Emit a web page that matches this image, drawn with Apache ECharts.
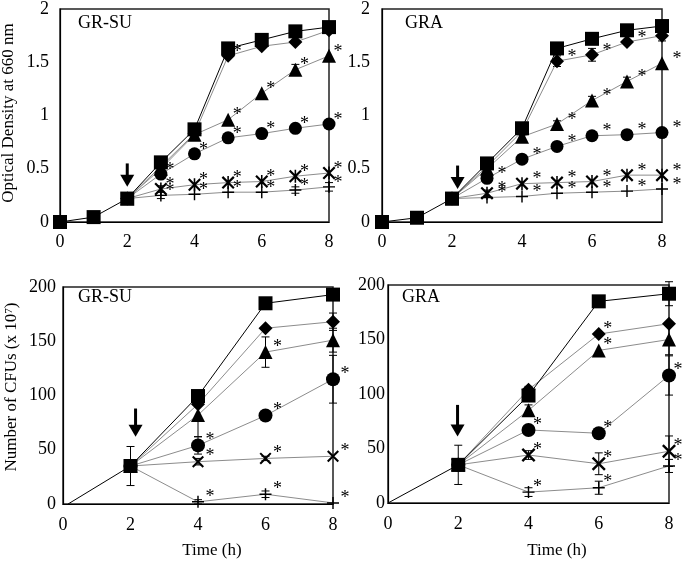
<!DOCTYPE html>
<html><head><meta charset="utf-8">
<script src="https://cdn.jsdelivr.net/npm/echarts@6/dist/echarts.min.js"></script>
<style>html,body{margin:0;padding:0;background:#fff}#c{width:683px;height:561px}</style>
</head><body><div id="c"></div>
<script>
// ---------- DATA ----------
// Optical density panels (hours 0..8)
const odHours = [0, 1, 2, 3, 4, 5, 6, 7, 8];
const odTreatHours = [2, 3, 4, 5, 6, 7, 8];
const odTicks = [0, 0.5, 1, 1.5, 2];

// GR-SU optical density
const suOdControl  = [0, 0.046, 0.22, 0.56, 0.87, 1.63, 1.71, 1.79, 1.83];
const suOdDiamond  = [0.22, 0.52, 0.83, 1.56, 1.65, 1.69, 1.80];
const suOdTriangle = [0.22, 0.50, 0.82, 0.96, 1.21, 1.43, 1.56];
const suOdCircle   = [0.22, 0.45, 0.64, 0.79, 0.83, 0.88, 0.92];
const suOdStar     = [0.22, 0.31, 0.35, 0.37, 0.38, 0.43, 0.46];
const suOdPlus     = [0.22, 0.25, 0.26, 0.28, 0.28, 0.30, 0.33];
const suOdTriangleErr = [0, 0, 0, 0, 0, 0.05, 0];
const suOdPlusErr     = [0, 0.03, 0, 0, 0, 0.03, 0.04];
const suOdStarErr     = [0, 0.03, 0, 0, 0, 0, 0];

// GRA optical density
const graOdControl  = [0, 0.04, 0.22, 0.55, 0.88, 1.63, 1.72, 1.80, 1.84];
const graOdDiamond  = [0.22, 0.52, 0.85, 1.51, 1.57, 1.69, 1.75];
const graOdTriangle = [0.22, 0.50, 0.80, 0.92, 1.14, 1.32, 1.49];
const graOdCircle   = [0.22, 0.41, 0.59, 0.71, 0.81, 0.82, 0.84];
const graOdStar     = [0.22, 0.27, 0.36, 0.37, 0.38, 0.44, 0.44];
const graOdPlus     = [0.22, 0.23, 0.24, 0.27, 0.28, 0.29, 0.31];
const graOdDiamondErr  = [0, 0, 0, 0.05, 0.06, 0, 0.05];
const graOdTriangleErr = [0, 0, 0, 0.03, 0.04, 0.04, 0];
const graOdStarErr     = [0, 0.03, 0, 0, 0, 0, 0];

// CFU panels
const cfuTicks = [0, 50, 100, 150, 200];
const cfuSuControlHours  = [0.15, 2, 4, 6, 8];
const cfuGraControlHours = [0, 2, 4, 6, 8];
const cfuTreatHours = [2, 4, 6, 8];

// GR-SU CFUs (x 10^7)
const suCfuControl  = [0, 35, 99.5, 185, 193];
const suCfuDiamond  = [35, 92, 162, 168];
const suCfuTriangle = [35, 82, 140, 151];
const suCfuCircle   = [35, 54, 81.5, 115];
const suCfuCross    = [35, 39, 42, 44];
const suCfuPlus     = [35, 2, 9, 1];
const suCfuControlErr  = [0, 18, 0, 4, 0];
const suCfuDiamondErr  = [0, 0, 0, 8];
const suCfuTriangleErr = [0, 20, 14, 11];
const suCfuCircleErr   = [0, 8, 0, 22];
const suCfuCrossErr    = [0, 3, 2, 0];
const suCfuPlusErr     = [0, 2, 3, 0];

// GRA CFUs (x 10^7)
const graCfuControl  = [0, 35, 98.6, 185, 192];
const graCfuDiamond  = [35, 104, 155, 164.5];
const graCfuTriangle = [35, 85, 140, 150];
const graCfuCircle   = [35, 67, 64, 117];
const graCfuCross    = [35, 44, 36, 47.5];
const graCfuPlus     = [35, 10, 14, 34];
const graCfuControlErr  = [0, 18, 0, 0, 11];
const graCfuDiamondErr  = [0, 3, 0, 0];
const graCfuTriangleErr = [0, 5, 0, 14];
const graCfuCircleErr   = [0, 0, 0, 18];
const graCfuCrossErr    = [0, 4, 10, 14];
const graCfuPlusErr     = [0, 4, 6, 6];

// significance asterisks: hours at which "*" is shown
const suOdStars  = {diamond: [5], triangle: [5, 6, 7, 8], circle: [3, 4, 5, 6, 7, 8], star: [3, 4, 5, 6, 7, 8], plus: [3, 4, 5, 6, 7, 8]};
const graOdStars = {diamond: [5, 6, 7], triangle: [5, 6, 7, 8], circle: [3, 4, 5, 6, 7, 8], star: [3, 4, 5, 6, 7, 8], plus: [3, 4, 5, 6, 7, 8]};
const suCfuStars  = {diamond: [], triangle: [6], circle: [4, 6, 8], cross: [4, 6, 8], plus: [4, 6, 8]};
const graCfuStars = {diamond: [6], triangle: [6], circle: [4, 6, 8], cross: [4, 6, 8], plus: [4, 6, 8]};

// treatment arrows: [hour, top value, tip value]
const suOdArrow   = [2.0, 0.55, 0.33];
const graOdArrow  = [2.16, 0.53, 0.31];
const suCfuArrow  = [2.15, 88, 62];
const graCfuArrow = [1.98, 90, 61];

const panelTitles = ['GR-SU', 'GRA', 'GR-SU', 'GRA'];

// ---------- STYLE ----------
const FONT = 'Liberation Serif, Times New Roman, serif';
const SYM_STAR = 'path://M0,1.2 L1.2,0 L10,8.8 L8.8,10 Z M8.8,0 L10,1.2 L1.2,10 L0,8.8 Z M4.4,0 L5.6,0 L5.6,10 L4.4,10 Z';
const SYM_X = 'path://M0,1.2 L1.2,0 L10,8.8 L8.8,10 Z M8.8,0 L10,1.2 L1.2,10 L0,8.8 Z';
const SYM_PLUS = 'path://M0,4.4 L10,4.4 L10,5.6 L0,5.6 Z M4.4,0 L5.6,0 L5.6,10 L4.4,10 Z';
const starOffset = [[9, -4], [15, -4], [12, -5], [9, -5]];

function lineSeries(gi, xs, ys, symbol, size, isControl, stars) {
  const data = xs.map((x, i) => {
    const item = {value: [x, ys[i]]};
    if (isControl && gi >= 2 && i === 0) item.symbol = 'none';
    if (stars && stars.indexOf(x) >= 0) {
      item.label = {show: true, formatter: '*', position: 'inside', offset: starOffset[gi],
        fontFamily: FONT, fontSize: 18, color: '#000'};
    }
    return item;
  });
  return {
    type: 'line', xAxisIndex: gi, yAxisIndex: gi, data,
    symbol, symbolSize: size, showAllSymbol: true,
    lineStyle: {color: isControl ? '#000' : '#8c8c8c', width: 1},
    itemStyle: {color: '#000'},
    label: {show: false},
    emphasis: {disabled: true},
    z: isControl ? 4 : 3, animation: false
  };
}

function errSeries(gi, xs, ys, errs) {
  const data = [];
  xs.forEach((x, i) => { if (errs[i] > 0) data.push([x, ys[i], errs[i]]); });
  return {
    type: 'custom', xAxisIndex: gi, yAxisIndex: gi, data, z: 2, silent: true, animation: false,
    renderItem(params, api) {
      const x = api.value(0), y = api.value(1), e = api.value(2);
      const hi = api.coord([x, y + e]), lo = api.coord([x, y - e]);
      const w = 4, st = {stroke: '#000', lineWidth: 1};
      return {type: 'group', children: [
        {type: 'line', shape: {x1: hi[0], y1: hi[1], x2: lo[0], y2: lo[1]}, style: st},
        {type: 'line', shape: {x1: hi[0] - w, y1: hi[1], x2: hi[0] + w, y2: hi[1]}, style: st},
        {type: 'line', shape: {x1: lo[0] - w, y1: lo[1], x2: lo[0] + w, y2: lo[1]}, style: st}
      ]};
    }
  };
}

function arrowSeries(gi, arr) {
  return {
    type: 'custom', xAxisIndex: gi, yAxisIndex: gi, data: [arr], z: 6, silent: true, animation: false,
    renderItem(params, api) {
      const top = api.coord([api.value(0), api.value(1)]);
      const tip = api.coord([api.value(0), api.value(2)]);
      const hh = 12, hw = 7;
      return {type: 'group', children: [
        {type: 'line', shape: {x1: top[0], y1: top[1], x2: tip[0], y2: tip[1] - hh + 1}, style: {stroke: '#000', lineWidth: 3}},
        {type: 'polygon', shape: {points: [[tip[0] - hw, tip[1] - hh], [tip[0] + hw, tip[1] - hh], [tip[0], tip[1]]]}, style: {fill: '#000'}}
      ]};
    }
  };
}

const grids = [
  {left: 60, top: 5, width: 269, height: 217},
  {left: 382, top: 5, width: 280, height: 217},
  {left: 63, top: 287, width: 270, height: 217},
  {left: 388, top: 285, width: 281, height: 218}
].map(g => Object.assign(g, {show: true, borderColor: '#222', borderWidth: 1.5, containLabel: false}));

const yMargins = [11, 12, 7, 3];
const xMargins = [11, 11, 12, 12];

const xAxes = grids.map((g, i) => ({
  type: 'value', gridIndex: i, min: 0, max: 8, interval: 2,
  axisLine: {show: true, lineStyle: {color: '#000', width: 1.2}},
  axisTick: {show: false}, splitLine: {show: false},
  axisLabel: {fontFamily: FONT, fontSize: 18, color: '#000', margin: xMargins[i]}
}));
const yAxes = grids.map((g, i) => {
  const ticks = i < 2 ? odTicks : cfuTicks;
  return {
    type: 'value', gridIndex: i, min: ticks[0], max: ticks[ticks.length - 1],
    interval: ticks[1] - ticks[0],
    axisLine: {show: true, lineStyle: {color: '#000', width: 1.2}},
    axisTick: {show: false}, splitLine: {show: false},
    axisLabel: {fontFamily: FONT, fontSize: 18, color: '#000', margin: yMargins[i]}
  };
});

const series = [];
// Panel 0: GR-SU OD
series.push(errSeries(0, odTreatHours, suOdTriangle, suOdTriangleErr));
series.push(errSeries(0, odTreatHours, suOdPlus, suOdPlusErr));
series.push(errSeries(0, odTreatHours, suOdStar, suOdStarErr));
series.push(lineSeries(0, odTreatHours, suOdPlus, SYM_PLUS, 12, false, suOdStars.plus));
series.push(lineSeries(0, odTreatHours, suOdStar, SYM_STAR, 13, false, suOdStars.star));
series.push(lineSeries(0, odTreatHours, suOdCircle, 'circle', 13, false, suOdStars.circle));
series.push(lineSeries(0, odTreatHours, suOdTriangle, 'triangle', 14, false, suOdStars.triangle));
series.push(lineSeries(0, odTreatHours, suOdDiamond, 'diamond', 14, false, suOdStars.diamond));
series.push(lineSeries(0, odHours, suOdControl, 'rect', 14, true, null));
series.push(arrowSeries(0, suOdArrow));
// Panel 1: GRA OD
series.push(errSeries(1, odTreatHours, graOdDiamond, graOdDiamondErr));
series.push(errSeries(1, odTreatHours, graOdTriangle, graOdTriangleErr));
series.push(errSeries(1, odTreatHours, graOdStar, graOdStarErr));
series.push(lineSeries(1, odTreatHours, graOdPlus, SYM_PLUS, 12, false, graOdStars.plus));
series.push(lineSeries(1, odTreatHours, graOdStar, SYM_STAR, 13, false, graOdStars.star));
series.push(lineSeries(1, odTreatHours, graOdCircle, 'circle', 13, false, graOdStars.circle));
series.push(lineSeries(1, odTreatHours, graOdTriangle, 'triangle', 14, false, graOdStars.triangle));
series.push(lineSeries(1, odTreatHours, graOdDiamond, 'diamond', 14, false, graOdStars.diamond));
series.push(lineSeries(1, odHours, graOdControl, 'rect', 14, true, null));
series.push(arrowSeries(1, graOdArrow));
// Panel 2: GR-SU CFU
series.push(errSeries(2, cfuSuControlHours, suCfuControl, suCfuControlErr));
series.push(errSeries(2, cfuTreatHours, suCfuDiamond, suCfuDiamondErr));
series.push(errSeries(2, cfuTreatHours, suCfuTriangle, suCfuTriangleErr));
series.push(errSeries(2, cfuTreatHours, suCfuCircle, suCfuCircleErr));
series.push(errSeries(2, cfuTreatHours, suCfuCross, suCfuCrossErr));
series.push(errSeries(2, cfuTreatHours, suCfuPlus, suCfuPlusErr));
series.push(lineSeries(2, cfuTreatHours, suCfuPlus, SYM_PLUS, 12, false, suCfuStars.plus));
series.push(lineSeries(2, cfuTreatHours, suCfuCross, SYM_X, 12, false, suCfuStars.cross));
series.push(lineSeries(2, cfuTreatHours, suCfuCircle, 'circle', 14, false, suCfuStars.circle));
series.push(lineSeries(2, cfuTreatHours, suCfuTriangle, 'triangle', 14, false, suCfuStars.triangle));
series.push(lineSeries(2, cfuTreatHours, suCfuDiamond, 'diamond', 14, false, suCfuStars.diamond));
series.push(lineSeries(2, cfuSuControlHours, suCfuControl, 'rect', 14, true, null));
series.push(arrowSeries(2, suCfuArrow));
// Panel 3: GRA CFU
series.push(errSeries(3, cfuGraControlHours, graCfuControl, graCfuControlErr));
series.push(errSeries(3, cfuTreatHours, graCfuDiamond, graCfuDiamondErr));
series.push(errSeries(3, cfuTreatHours, graCfuTriangle, graCfuTriangleErr));
series.push(errSeries(3, cfuTreatHours, graCfuCircle, graCfuCircleErr));
series.push(errSeries(3, cfuTreatHours, graCfuCross, graCfuCrossErr));
series.push(errSeries(3, cfuTreatHours, graCfuPlus, graCfuPlusErr));
series.push(lineSeries(3, cfuTreatHours, graCfuPlus, SYM_PLUS, 12, false, graCfuStars.plus));
series.push(lineSeries(3, cfuTreatHours, graCfuCross, SYM_X, 14, false, graCfuStars.cross));
series.push(lineSeries(3, cfuTreatHours, graCfuCircle, 'circle', 14, false, graCfuStars.circle));
series.push(lineSeries(3, cfuTreatHours, graCfuTriangle, 'triangle', 14, false, graCfuStars.triangle));
series.push(lineSeries(3, cfuTreatHours, graCfuDiamond, 'diamond', 14, false, graCfuStars.diamond));
series.push(lineSeries(3, cfuGraControlHours, graCfuControl, 'rect', 14, true, null));
series.push(arrowSeries(3, graCfuArrow));

const titlePos = [[78, 23], [405, 23], [78, 297], [402, 297]];
const graphic = titlePos.map((p, i) => ({
  type: 'text', x: p[0], y: p[1], z: 10,
  style: {text: panelTitles[i], font: '18px ' + FONT, fill: '#000', textVerticalAlign: 'middle', textAlign: 'left'}
}));
graphic.push({type: 'text', x: 9, y: 113, rotation: Math.PI / 2, z: 10,
  style: {text: 'Optical Density at 660 nm', font: '17px ' + FONT, fill: '#000', textAlign: 'center', textVerticalAlign: 'middle'}});
graphic.push({type: 'text', x: 12, y: 387, rotation: Math.PI / 2, z: 10,
  style: {text: '{a|Number of CFUs (x 10}{s|7}{a|)}', fill: '#000', textAlign: 'center', textVerticalAlign: 'middle',
    rich: {a: {font: '17px ' + FONT, fill: '#000'}, s: {font: '11px ' + FONT, fill: '#000', verticalAlign: 'top', padding: [0, 0, 6, 0]}}}});
graphic.push({type: 'text', x: 212, y: 551, z: 10,
  style: {text: 'Time (h)', font: '17px ' + FONT, fill: '#000', textAlign: 'center', textVerticalAlign: 'middle'}});
graphic.push({type: 'text', x: 557, y: 551, z: 10,
  style: {text: 'Time (h)', font: '17px ' + FONT, fill: '#000', textAlign: 'center', textVerticalAlign: 'middle'}});

const chart = echarts.init(document.getElementById('c'), null, {renderer: 'canvas'});
chart.setOption({
  animation: false,
  backgroundColor: '#fff',
  grid: grids, xAxis: xAxes, yAxis: yAxes, series, graphic
});
</script>
</body></html>
